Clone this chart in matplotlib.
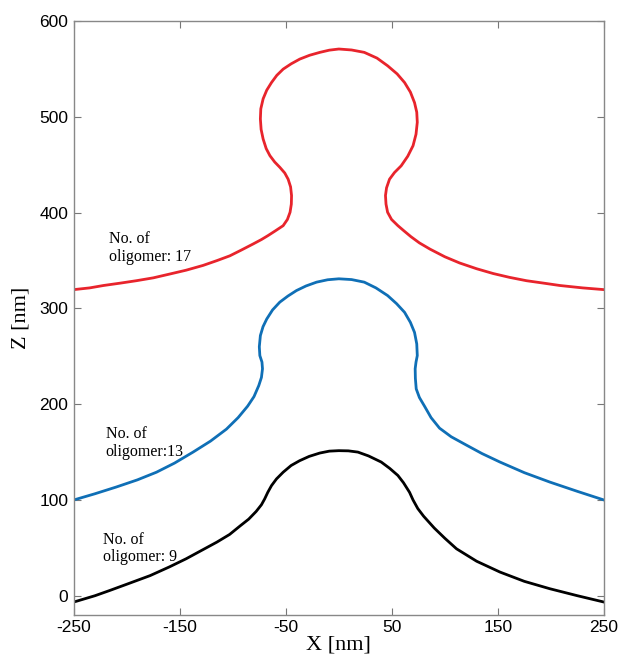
import matplotlib.pyplot as plt

plt.rcParams['axes.unicode_minus'] = False

# Membrane profiles (x, z in nm)
x_17 = [-250, -235, -222, -206, -191, -175, -159.4, -144, -128, -115, -102.8, -92, -80.8,
        -73, -67, -60, -52.5, -48.5, -46, -44.8, -44.6, -45.5, -47.8, -51, -55.7, -60.5,
        -65, -68.5, -71.4, -73.3, -74, -73.6, -71.4, -68, -63.5, -58.5, -52.5, -45, -36.8,
        -27.5, -17.9, -9, 0, 12, 24, 36, 46, 55, 62, 67.5, 71.4, 73.5, 74, 72.8, 70, 65,
        58.8, 52.5, 47.8, 45, 44, 44.5, 46, 49.7, 55.7, 61.5, 68, 76, 86, 100, 114, 130,
        145.6, 161, 177, 193, 208.5, 230, 250]
z_17 = [319.7, 321.5, 324, 326.5, 329, 332, 336, 340, 345, 350, 355, 361, 367.4,
        372, 376, 381, 386.5, 393, 400.5, 409, 418, 427, 435, 441.5, 447.5, 453,
        459.6, 467, 477, 487, 498, 508.5, 519, 528, 536, 543.5, 550, 555.5, 560.5,
        564.5, 567.5, 569.8, 571, 570, 567.5, 561.5, 553.5, 545, 536, 526, 515, 505, 494.5, 482, 470, 459,
        449, 442, 435, 426, 418, 409, 400.5, 393, 386.5, 381, 375, 368.5, 362, 354, 347.5, 341.5,
        336.5, 332.5, 329, 326.5, 324, 321.5, 319.7]

x_13 = [-250, -230, -210, -190, -172, -155, -137.5, -121, -106, -95, -86, -80, -75.5, -73,
        -72, -72.5, -74.5, -75, -74, -71.5, -68, -62.5, -55.7, -48, -40, -31, -21, -10.5, 0,
        12, 24, 35, 46, 54.5, 62, 67.5, 71.4, 73.5, 74, 72.8, 72, 72.2, 73, 76, 80.8, 87, 95,
        106, 120, 135, 152, 175, 199, 225, 250]
z_13 = [100, 106.5, 113.5, 121, 129, 138.5, 150, 161.5, 174, 186, 198, 208, 219.5, 228,
        237, 244, 250.8, 260, 271.7, 281, 289, 298.5, 306.6, 313, 318.7, 323.5, 327.5, 330, 331,
        330.2, 327.5, 321.5, 313.5, 305, 296, 285.5, 275, 263, 250.8, 244, 237, 227, 216, 207, 198, 186, 175,
        166, 157.5, 148.5, 139.6, 128.5, 118.7, 109, 100]

x_9 = [-250, -230, -216, -200, -178, -160, -144, -130, -115, -103, -93, -85, -78, -73, -70,
       -67, -63.5, -58.8, -52.5, -45, -37, -28, -18, -9, 0, 9, 18, 28, 40, 48, 55.7, 61,
       66.7, 70, 74.5, 80, 90, 100, 111, 130, 152, 175, 199, 225, 250]
z_9 = [-6.6, 0, 5.5, 12, 21, 30, 38.6, 47, 56, 64, 73, 80, 88, 95, 101,
       108, 115, 122, 129, 136, 141, 145.5, 149, 151, 151.5, 151.3, 150, 146, 139.6, 133, 125.6, 118,
       108, 100, 91, 83, 70.7, 60, 49, 36, 24.7, 15, 7.3, 0, -6.6]

labels = ['No. of\noligomer: 17', 'No. of\noligomer:13', 'No. of\noligomer: 9']
label_pos = [(-217, 381), (-220, 177), (-222, 67)]
colors = ['#e8242c', '#0f6fb6', '#000000']

fig = plt.figure(figsize=(6.2, 6.64), dpi=100)
ax = fig.add_axes([0.119, 0.074, 0.855, 0.894])

for xs, zs, c in zip([x_17, x_13, x_9], [z_17, z_13, z_9], colors):
    ax.plot(xs, zs, color=c, lw=2.0, solid_joinstyle='round')

for t, (tx, tz) in zip(labels, label_pos):
    ax.text(tx, tz, t, family='Liberation Serif', fontsize=11.5, va='top', ha='left',
            linespacing=1.15)

ax.set_xlim(-250, 250)
ax.set_ylim(-20, 600)
ax.set_xticks([-250, -150, -50, 50, 150, 250])
ax.set_yticks([0, 100, 200, 300, 400, 500, 600])
ax.tick_params(direction='in', top=True, right=True, length=5, color='#777777',
               labelsize=12.5, pad=4)
for lab in ax.get_xticklabels() + ax.get_yticklabels():
    lab.set_family('Liberation Sans')
for s in ax.spines.values():
    s.set_color('#888888')
    s.set_linewidth(1.0)

ax.set_xlabel('X [nm]', family='Liberation Serif', fontsize=16, labelpad=0)
ax.set_ylabel('Z [nm]', family='Liberation Serif', fontsize=16, labelpad=6)

fig.savefig('out.png')
